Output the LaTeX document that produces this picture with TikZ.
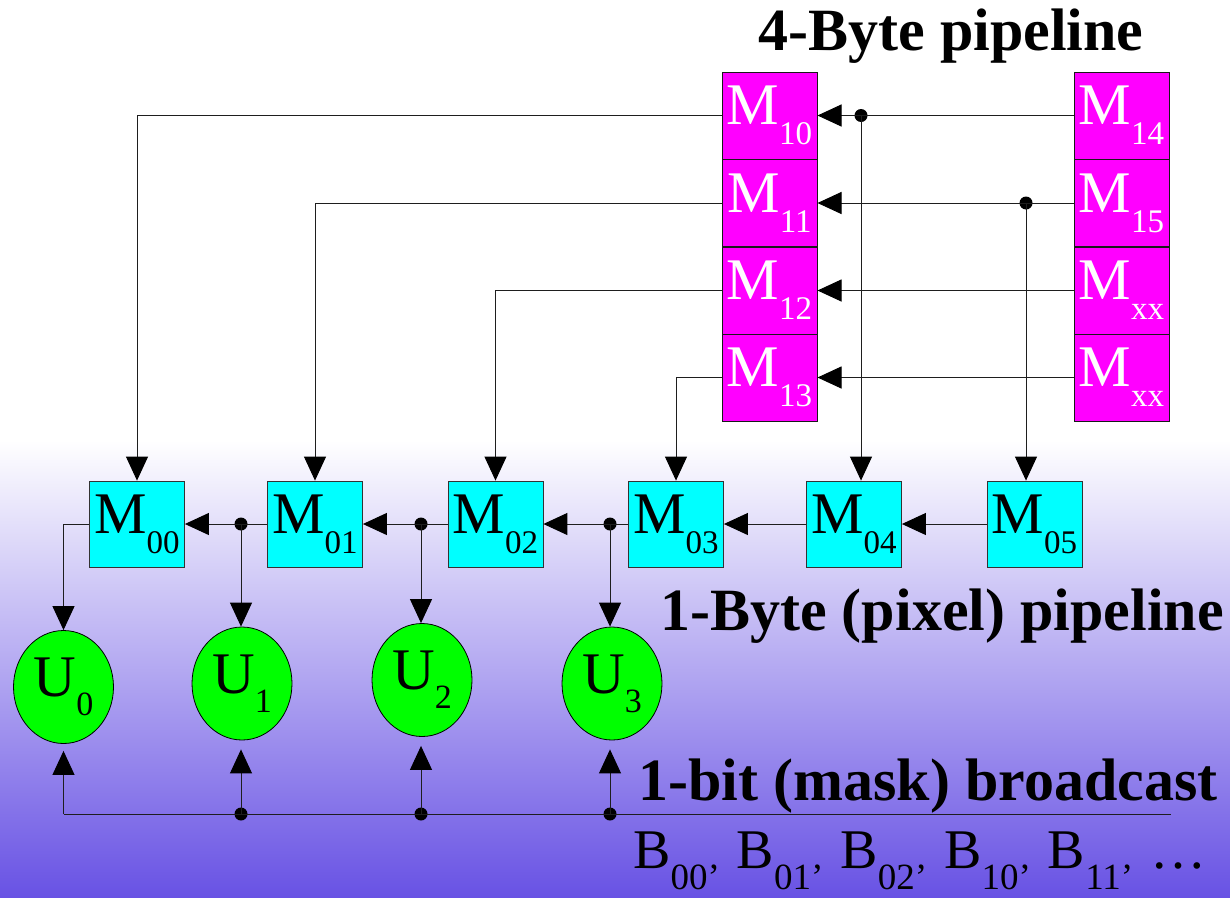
\documentclass[tikz,border=0pt]{standalone}
\usepackage{fontspec}
\setmainfont{Liberation Serif}
\usetikzlibrary{arrows.meta,calc,shapes.geometric}
\definecolor{magbox}{RGB}{255,0,255}
\definecolor{cybox}{RGB}{0,255,255}
\definecolor{grunit}{RGB}{0,255,0}
\definecolor{bgblue}{RGB}{104,82,228}
\definecolor{linec}{RGB}{30,30,30}
\newcommand{\mlab}[2]{\fontsize{59}{59}\selectfont #1\raisebox{-20pt}{\fontsize{33}{33}\selectfont #2}}
\newcommand{\ulab}[1]{\fontsize{59}{59}\selectfont U\raisebox{-19pt}{\fontsize{34}{34}\selectfont #1}}
\newcommand{\bsub}[1]{\raisebox{-21pt}{\fontsize{37}{37}\selectfont #1’}\kern3pt\relax}
\begin{document}
\begin{tikzpicture}[x=1pt,y=-1pt,
  mbox/.style={rectangle,draw=black!90,line width=1pt,fill=magbox,text=white,
    minimum width=95pt,minimum height=87pt,inner sep=0pt},
  cbox/.style={rectangle,draw=black!80,line width=0.8pt,fill=cybox,text=black,
    minimum width=95pt,minimum height=86pt,inner sep=0pt},
  unit/.style={ellipse,draw=black,line width=0.8pt,fill=grunit,
    minimum width=100pt,minimum height=113pt,inner sep=0pt},
  dotn/.style={circle,fill=black,inner sep=0pt,minimum size=13pt},
  ln/.style={draw=linec,line width=1pt},
  arr/.style={draw=linec,line width=1pt,-{Triangle[length=24pt,width=22pt,fill=black,color=black]}},
  ttl/.style={inner sep=0pt,font=\bfseries\fontsize{60}{60}\selectfont}
]
\useasboundingbox (0,0) rectangle (1230,897);
\fill[white] (0,0) rectangle (1230,441);
\shade[top color=white,bottom color=bgblue] (0,440) rectangle (1230,897);

% 4-byte pipeline boxes
\node[mbox] (m10) at (769.5,115.5) {\mlab{M}{10}};
\node[mbox] (m11) at (769.5,203) {\mlab{M}{11}};
\node[mbox] (m12) at (769.5,290.5) {\mlab{M}{12}};
\node[mbox] (m13) at (769.5,377.5) {\mlab{M}{13}};
\node[mbox] (m14) at (1121.5,115.5) {\mlab{M}{14}};
\node[mbox] (m15) at (1121.5,203) {\mlab{M}{15}};
\node[mbox] (mxa) at (1121.5,290.5) {\mlab{M}{xx}};
\node[mbox] (mxb) at (1121.5,377.5) {\mlab{M}{xx}};

% 1-byte pipeline boxes
\node[cbox] (m00) at (137,524) {\mlab{M}{00}};
\node[cbox] (m01) at (315,524) {\mlab{M}{01}};
\node[cbox] (m02) at (495.5,524) {\mlab{M}{02}};
\node[cbox] (m03) at (676,524) {\mlab{M}{03}};
\node[cbox] (m04) at (854,524) {\mlab{M}{04}};
\node[cbox] (m05) at (1034.5,524) {\mlab{M}{05}};

% units
\node[unit] (u0) at (63.5,687) {\ulab{0}};
\node[unit] (u1) at (242,683.5) {\ulab{1}};
\node[unit] (u2) at (422,680) {\ulab{2}};
\node[unit] (u3) at (612,683.5) {\ulab{3}};

% titles
\node[ttl,anchor=base] (t1) at (951,50) {4-Byte pipeline};
\node[ttl,anchor=base] (t2) at (942,630) {1-Byte (pixel) pipeline};
\node[ttl,anchor=base] (t3) at (928,800) {1-bit (mask) broadcast};
\node[inner sep=0pt,anchor=base west,font=\fontsize{56}{56}\selectfont] (t4) at (633,868)
  {B\bsub{00} B\bsub{01} B\bsub{02} B\bsub{10} B\bsub{11} …};

% dots
\node[dotn] (dt1) at (861,115.5) {};
\node[dotn] (dt2) at (1026,203) {};
\node[dotn] (dc1) at (241,524) {};
\node[dotn] (dc2) at (421,524) {};
\node[dotn] (dc3) at (610,524) {};
\node[dotn] (db1) at (241,814) {};
\node[dotn] (db2) at (421,814) {};
\node[dotn] (db3) at (610,814) {};
\coordinate (bl) at (63.5,814);
\coordinate (br) at (1171,814);

% 4-byte pipeline shifts
\draw[arr] (m14) -- (m10);
\draw[arr] (m15) -- (m11);
\draw[arr] (mxa) -- (m12);
\draw[arr] (mxb) -- (m13);
\draw[arr] (dt1.center) -- (dt1 |- m04.north);
\draw[arr] (dt2.center) -- (dt2 |- m05.north);

% 4-byte to 1-byte loads
\draw[arr] (m10.west) -| (m00.north);
\draw[arr] (m11.west) -| (m01.north);
\draw[arr] (m12.west) -| (m02.north);
\draw[arr] (m13.west) -| (m03.north);

% 1-byte chain
\draw[arr] (m05) -- (m04);
\draw[arr] (m04) -- (m03);
\draw[arr] (m03) -- (m02);
\draw[arr] (m02) -- (m01);
\draw[arr] (m01) -- (m00);

% to units
\draw[arr] (m00.west) -| (u0.north);
\draw[arr] (dc1.center) -- (dc1 |- u1.north);
\draw[arr] (dc2.center) -- (dc2 |- u2.north);
\draw[arr] (dc3.center) -- (dc3 |- u3.north);

% broadcast
\draw[ln] (bl) -- (br);
\draw[arr,shorten >=7pt] (bl) -- (u0.south);
\draw[arr,shorten >=9pt] (db1.center) -- (db1 |- u1.south);
\draw[arr,shorten >=9pt] (db2.center) -- (db2 |- u2.south);
\draw[arr,shorten >=9pt] (db3.center) -- (db3 |- u3.south);
\end{tikzpicture}
\end{document}
